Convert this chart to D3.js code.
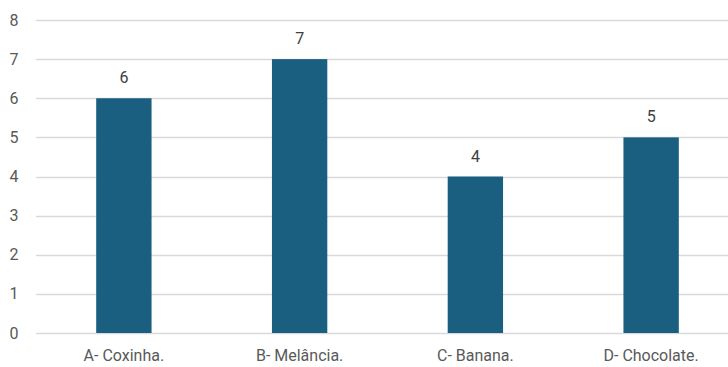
<!DOCTYPE html>
<html><head><meta charset="utf-8">
<script src="https://cdn.jsdelivr.net/npm/d3@7"></script>
<style>body{margin:0;background:#fff}svg{display:block}</style>
</head><body>
<svg id="c" width="728" height="367"></svg>
<script>
const categories = ["A- Coxinha.", "B- Melância.", "C- Banana.", "D- Chocolate."];
const values = [6, 7, 4, 5];
const yTicks = [0, 1, 2, 3, 4, 5, 6, 7, 8];

const svg = d3.select("#c");
const font = "Roboto, 'Open Sans', sans-serif";
const x = d3.scaleBand().domain(categories).range([36, 739]).padding(0);
const y = d3.scaleLinear().domain([0, 8]).range([333, 20]);
const barW = x.bandwidth() * 0.315;

const grid = svg.append("g");
yTicks.forEach(t => {
  grid.append("line").attr("x1", 36).attr("x2", 728)
    .attr("y1", Math.round(y(t)) + 0.5).attr("y2", Math.round(y(t)) + 0.5)
    .attr("stroke", "#d9d9d9").attr("stroke-width", 1.5);
  grid.append("text").attr("x", 14).attr("y", y(t)).attr("dy", "0.35em")
    .attr("text-anchor", "middle").attr("font-family", font).attr("font-size", 16)
    .attr("fill", "#595959").text(t);
});

svg.selectAll("rect.bar").data(values).enter().append("rect")
  .attr("class", "bar")
  .attr("x", (d, i) => x(categories[i]) + x.bandwidth() / 2 - barW / 2)
  .attr("width", barW)
  .attr("y", d => y(d))
  .attr("height", d => y(0) - y(d))
  .attr("fill", "#1a5e80");

svg.selectAll("text.lbl").data(values).enter().append("text")
  .attr("x", (d, i) => x(categories[i]) + x.bandwidth() / 2)
  .attr("y", d => y(d) - 15)
  .attr("text-anchor", "middle").attr("font-family", font).attr("font-size", 16)
  .attr("fill", "#404040").text(d => d);

svg.selectAll("text.cat").data(categories).enter().append("text")
  .attr("x", d => x(d) + x.bandwidth() / 2)
  .attr("y", 361)
  .attr("text-anchor", "middle").attr("font-family", font).attr("font-size", 16)
  .attr("fill", "#595959").text(d => d);
</script>
</body></html>
